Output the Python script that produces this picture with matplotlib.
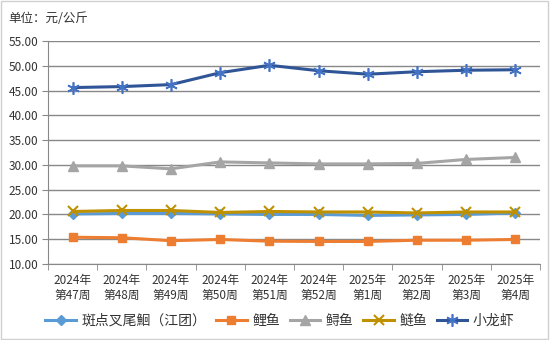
import matplotlib
matplotlib.use("Agg")
import matplotlib.pyplot as plt
from matplotlib.patches import Rectangle

plt.rcParams['font.family'] = ['Noto Sans CJK SC', 'DejaVu Sans']

categories = ["2024年\n第47周", "2024年\n第48周", "2024年\n第49周", "2024年\n第50周", "2024年\n第51周",
              "2024年\n第52周", "2025年\n第1周", "2025年\n第2周", "2025年\n第3周", "2025年\n第4周"]
s_banshe = [20.1, 20.2, 20.2, 20.1, 20.0, 20.0, 19.8, 19.9, 20.0, 20.3]
s_liyu = [15.4, 15.3, 14.7, 14.95, 14.6, 14.55, 14.55, 14.8, 14.8, 14.95]
s_xunyu = [29.8, 29.8, 29.2, 30.6, 30.4, 30.2, 30.2, 30.3, 31.1, 31.5]
s_lianyu = [20.6, 20.8, 20.8, 20.4, 20.6, 20.5, 20.5, 20.3, 20.5, 20.5]
s_longxia = [45.6, 45.8, 46.2, 48.6, 50.1, 49.0, 48.3, 48.8, 49.1, 49.2]
names = ["斑点叉尾鮰（江团）", "鲤鱼", "鲟鱼", "鲢鱼", "小龙虾"]
yticks = [10, 15, 20, 25, 30, 35, 40, 45, 50, 55]

fig = plt.figure(figsize=(5.5, 3.4), dpi=100)
fig.patches.append(Rectangle((0.002, 0.003), 0.995, 0.994, transform=fig.transFigure,
                             fill=False, edgecolor='#d0d0d0', linewidth=1))
ax = fig.add_axes([48/550, 1-264/340, 492/550, (264-41)/340])
x = list(range(len(categories)))

ax.plot(x, s_banshe, color='#5B9BD5', lw=2.2, marker='D', ms=5, label=names[0], zorder=3)
ax.plot(x, s_liyu, color='#ED7D31', lw=2.2, marker='s', ms=6, label=names[1], zorder=3)
ax.plot(x, s_xunyu, color='#A5A5A5', lw=2.2, marker='^', ms=7, label=names[2], zorder=3)
ax.plot(x, s_lianyu, color='#BF9000', lw=2.2, marker='x', ms=7, mew=1.5, label=names[3], zorder=3)
ax.plot(x, s_longxia, color='#2F5597', lw=2.2, marker=(6, 2, 0), ms=9, mew=1.2,
        mec='#4472C4', label=names[4], zorder=3)

ax.set_xlim(-0.5, len(categories) - 0.5)
ax.set_ylim(10, 55)
ax.set_yticks(yticks)
ax.set_yticklabels([f"{v:.2f}" for v in yticks], fontsize=8.5, color='#333333')
ax.set_xticks(x)
ax.set_xticklabels(categories, fontsize=8.5, color='#333333', linespacing=1.25)
ax.set_xticks([i - 0.5 for i in range(len(categories) + 1)], minor=True)
ax.tick_params(axis='x', which='major', length=0, pad=7)
ax.tick_params(axis='x', which='minor', length=4, color='#888888')
ax.tick_params(axis='y', length=4, color='#888888', pad=3)
ax.grid(axis='y', color='#888888', lw=1)
for s in ['top', 'right']:
    ax.spines[s].set_visible(False)
ax.spines['left'].set_color('#888888')
ax.spines['bottom'].set_color('#888888')
ax.set_axisbelow(True)

fig.text(8/550, 1-18/340, "单位：元/公斤", fontsize=9, color='#333333', va='center')
fig.legend(loc='center', bbox_to_anchor=(280/550, 1-321/340), ncol=5, frameon=False,
           fontsize=10, handlelength=2.2, columnspacing=0.7, handletextpad=0.4,
           labelcolor='#333333')

fig.savefig("out.png", dpi=100)
